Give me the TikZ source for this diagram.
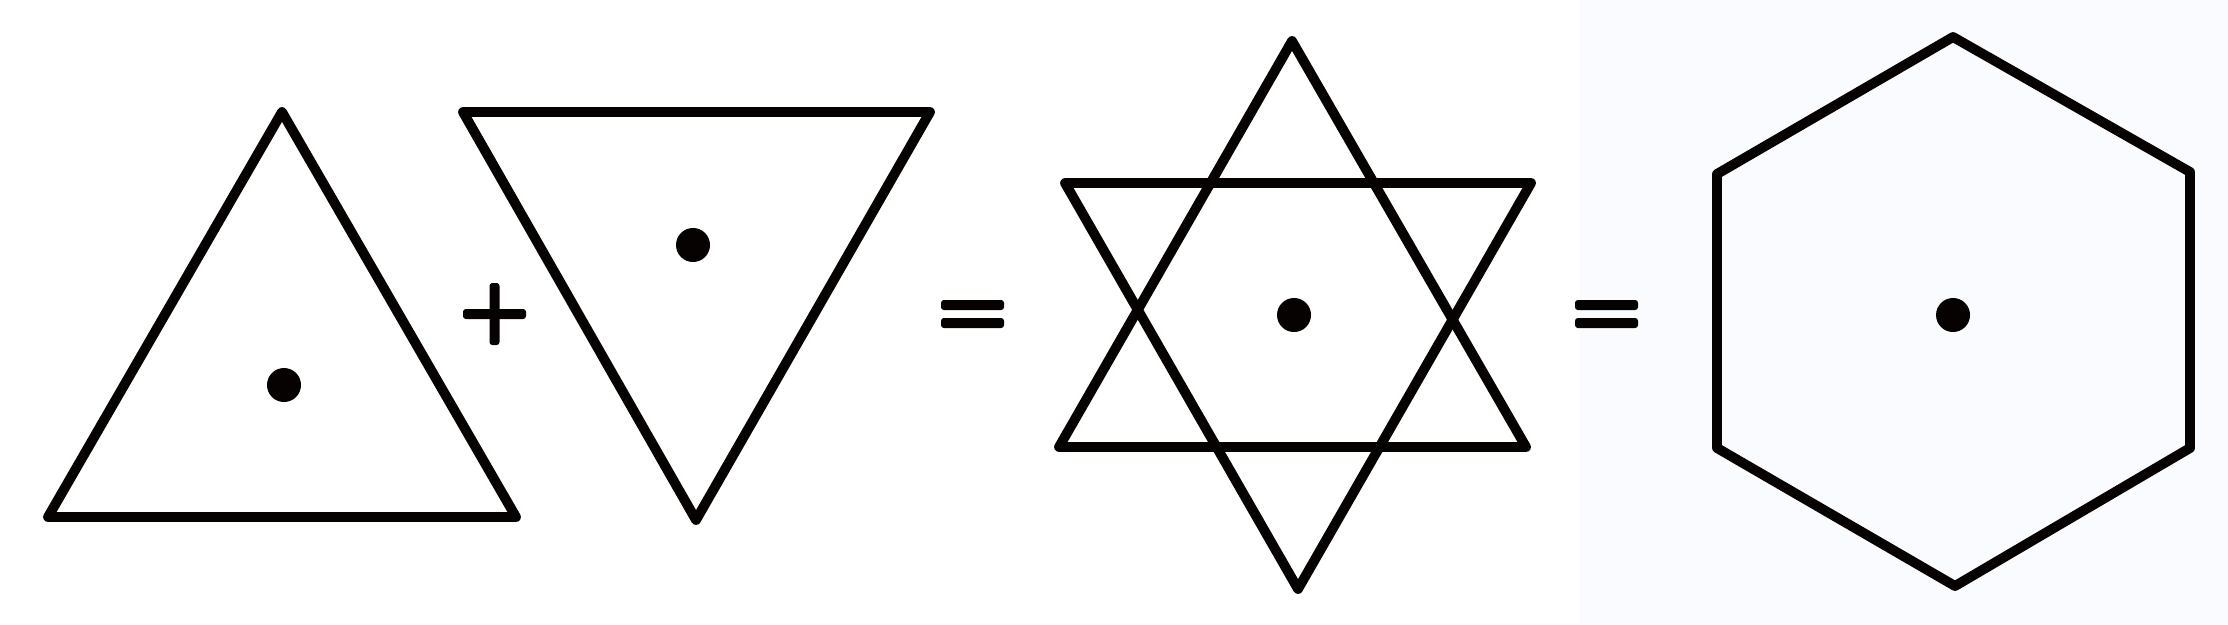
\documentclass[tikz,border=0pt]{standalone}
\usepackage{xcolor}
\usepackage{tikz}
\definecolor{ink}{HTML}{060202}
\definecolor{tint}{HTML}{FAFBFE}

\begin{document}
\begin{tikzpicture}[x=0.01cm, y=-0.01cm,
  edge/.style={draw=ink, line width=2.8pt, line join=round},
  bar/.style={fill=ink, rounded corners=0.8pt},
  dotmark/.style={fill=ink}]
\useasboundingbox (0,0) rectangle (2228,624);
\fill[tint] (1580,0) rectangle (2228,624);
% upward triangle
\draw[edge] (282,112) -- (516,517) -- (48,517) -- cycle;
\fill[dotmark] (284,385) circle (0.17cm);
% plus
\fill[bar] (463,309) rectangle (526,319);
\fill[bar] (489.5,283) rectangle (499.5,345);
% downward triangle
\draw[edge] (463,112) -- (930,112) -- (696,520) -- cycle;
\fill[dotmark] (693,245) circle (0.17cm);
% equals
\fill[bar] (941,300) rectangle (1004,310);
\fill[bar] (941,318) rectangle (1004,328);
% star of the two triangles
\draw[edge] (1292,41) -- (1526,447) -- (1059,447) -- cycle;
\draw[edge] (1065,183) -- (1531,183) -- (1298,589) -- cycle;
\fill[dotmark] (1294,315) circle (0.17cm);
% equals
\fill[bar] (1575,300) rectangle (1638,310);
\fill[bar] (1575,318) rectangle (1638,328);
% hexagon
\draw[edge] (1953,37) -- (2190,172) -- (2190,448) -- (1955,586)
  -- (1717,448) -- (1717,174) -- cycle;
\fill[dotmark] (1953,315) circle (0.17cm);
\end{tikzpicture}
\end{document}
